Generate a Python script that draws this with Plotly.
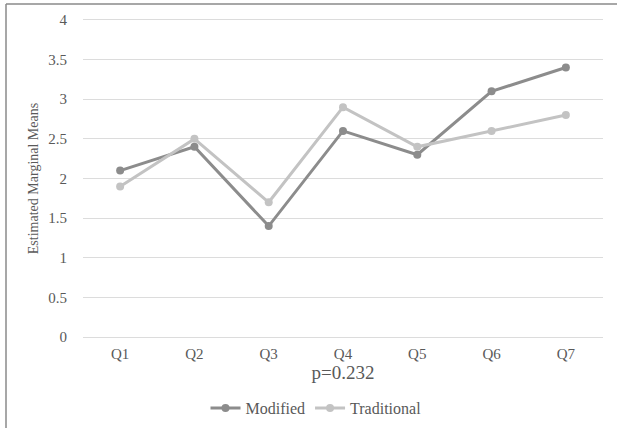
import plotly.graph_objects as go

categories = ["Q1", "Q2", "Q3", "Q4", "Q5", "Q6", "Q7"]
modified = [2.1, 2.4, 1.4, 2.6, 2.3, 3.1, 3.4]
traditional = [1.9, 2.5, 1.7, 2.9, 2.4, 2.6, 2.8]
y_ticks = [0, 0.5, 1, 1.5, 2, 2.5, 3, 3.5, 4]
y_tick_labels = ["0", "0.5", "1", "1.5", "2", "2.5", "3", "3.5", "4"]

W, H = 617, 428
ML, MR, MT, MB = 83, 14, 18, 89
PW, PH = W - ML - MR, H - MT - MB

def px(x):
    return (x - ML) / PW

def py(y):
    return (H - MB - y) / PH

font_family = "Liberation Serif"
text_color = "#595959"

fig = go.Figure()
fig.add_trace(go.Scatter(
    x=categories, y=modified, name="Modified", mode="lines+markers",
    line=dict(color="#8c8c8c", width=3),
    marker=dict(color="#8c8c8c", size=8),
))
fig.add_trace(go.Scatter(
    x=categories, y=traditional, name="Traditional", mode="lines+markers",
    line=dict(color="#c3c3c3", width=3),
    marker=dict(color="#c3c3c3", size=8),
))

fig.update_layout(
    width=W, height=H,
    margin=dict(l=ML, r=MR, t=MT, b=MB, autoexpand=False),
    paper_bgcolor="white", plot_bgcolor="white",
    font=dict(family=font_family, color=text_color),
    showlegend=True,
    legend=dict(orientation="h", xref="container", yref="container",
                x=316 / W, xanchor="center",
                y=(H - 408) / H, yanchor="middle",
                font=dict(size=16, family=font_family, color=text_color),
                itemwidth=30),
    xaxis=dict(
        type="category", range=[-0.5, 6.5], automargin=False,
        showgrid=False, zeroline=False, showline=False,
        ticks="", tickfont=dict(size=15, family=font_family), ticklabelstandoff=4,
        title=dict(text="p=0.232", font=dict(size=19, family=font_family), standoff=4),
    ),
    yaxis=dict(
        range=[-0.025, 4.025], tickvals=y_ticks, ticktext=y_tick_labels,
        automargin=False,
        showgrid=True, gridcolor="#dcdcdc", gridwidth=1,
        zeroline=False, showline=False, ticks="",
        tickfont=dict(size=15, family=font_family), ticklabelstandoff=15,
        title=dict(text="Estimated Marginal Means",
                   font=dict(size=14, family=font_family), standoff=6),
    ),
    shapes=[
        dict(type="line", xref="paper", yref="paper",
             x0=px(6), x1=px(620), y0=py(4), y1=py(4),
             line=dict(color="#8a8a8a", width=1.5)),
        dict(type="line", xref="paper", yref="paper",
             x0=px(6), x1=px(6), y0=py(4), y1=py(432),
             line=dict(color="#8a8a8a", width=1.5)),
    ],
)

fig.write_html("out.html", config={"displayModeBar": False},
               post_script="document.body.style.margin='0';document.body.style.overflow='hidden';")
